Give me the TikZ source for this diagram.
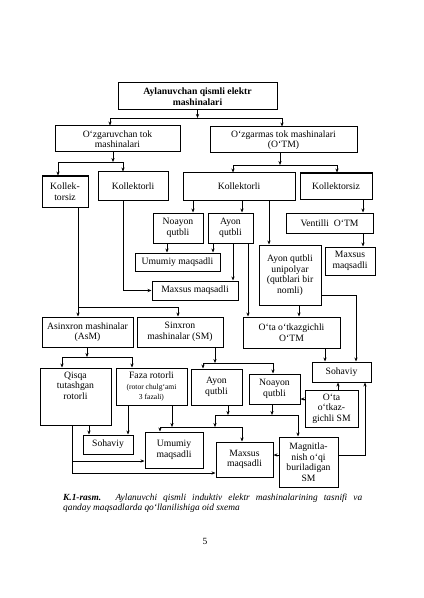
\documentclass[tikz,border=0pt]{standalone}
\usepackage{fontspec}
\setmainfont{Liberation Serif}
\usetikzlibrary{arrows.meta}
\newcommand\fsz{\fontsize{9.7}{10.6}\selectfont}
\newcommand\fsm{\fontsize{7.6}{8.2}\selectfont}
\begin{document}
\begin{tikzpicture}[x=1bp,y=-1bp,
  box/.style={draw, line width=1bp, inner sep=1bp, align=center, font=\fsz},
  ln/.style={line width=0.9bp},
  arr/.style={ln, -{Stealth[length=4bp,width=3.2bp]}},
  toplbl/.style={font=\fsz,align=center,anchor=north,inner sep=1bp,yshift=-3bp}]
\useasboundingbox[fill=white] (0,0) rectangle (423,598);

% boxes
\node[box,font=\bfseries\fsz,minimum width=159bp,minimum height=27bp] (top) at (197.5,96.5) {Aylanuvchan qismli elektr\\mashinalari};
\node[box,minimum width=125bp,minimum height=26bp] (ozg) at (117.5,139) {O‘zgaruvchan tok\\mashinalari};
\node[box,minimum width=147bp,minimum height=26bp] (ozgm) at (283.5,140) {O‘zgarmas tok mashinalari\\(O‘TM)};
\node[box,minimum width=46bp,minimum height=31bp] (kolsizL) at (65,191.5) {Kollek-\\torsiz};
\node[box,minimum width=70bp,minimum height=28bp] (kolliL) at (133,186) {Kollektorli};
\node[box,minimum width=112bp,minimum height=27bp] (kolliR) at (239,186.5) {Kollektorli};
\node[box,minimum width=72bp,minimum height=26bp] (kolsizR) at (336,186) {Kollektorsiz};
\node[box,minimum width=50bp,minimum height=30bp] (noayon1) at (178,228) {Noayon\\qutbli};
\node[box,minimum width=45bp,minimum height=30bp] (ayon1) at (230.5,228) {Ayon\\qutbli};
\node[box,minimum width=87bp,minimum height=20bp] (ventil) at (329.5,223) {Ventilli\ \ O‘TM};
\node[box,minimum width=85bp,minimum height=18bp] (umum1) at (177.5,262) {Umumiy maqsadli};
\node[box,minimum width=86bp,minimum height=19bp] (maxsus1) at (195,290.5) {Maxsus maqsadli};
\node[box,minimum width=62bp,minimum height=60bp] (unipol) at (290,275) {Ayon qutbli\\unipolyar\\(qutblari bir\\nomli)};
\node[box,minimum width=50bp,minimum height=28bp] (maxsusR) at (350,261) {Maxsus\\maqsadli};
\node[box,minimum width=91bp,minimum height=30bp] (asm) at (87.5,332) {Asinxron mashinalar\\(AsM)};
\node[box,minimum width=86bp,minimum height=30bp] (sm) at (180,332) {Sinxron\\mashinalar (SM)};
\node[box,minimum width=97bp,minimum height=31bp] (otaotm) at (291.5,332.5) {O‘ta o‘tkazgichli\\O‘TM};
\node[box,minimum width=59bp,minimum height=20bp] (sohR) at (341.5,372) {Sohaviy};
\node[box,minimum width=71bp,minimum height=57bp,label={[toplbl]north:{Qisqa\\tutashgan\\rotorli}}] (qisqa) at (75.5,396.5) {};
\node[box,minimum width=71bp,minimum height=37bp] (faza) at (151.5,386.5) {Faza rotorli\\{\fsm(rotor chulg‘ami}\\{\fsm 3 fazali)}};
\node[box,minimum width=51bp,minimum height=36bp] (ayon2) at (216.5,387) {Ayon\\qutbli};
\node[box,minimum width=51bp,minimum height=30bp] (noayon2) at (274.5,389) {Noayon\\qutbli};
\node[box,minimum width=53bp,minimum height=37bp] (otasm) at (331.5,408.5) {O‘ta\\o‘tkaz-\\gichli SM};
\node[box,minimum width=50bp,minimum height=19bp] (sohL) at (108,444.5) {Sohaviy};
\node[box,minimum width=58bp,minimum height=36bp] (umum2) at (174,450) {Umumiy\\maqsadli};
\node[box,minimum width=57bp,minimum height=35bp] (maxsus2) at (244.5,459.5) {Maxsus\\maqsadli};
\node[box,minimum width=59bp,minimum height=50bp] (magn) at (308.5,462) {Magnitla-\\nish o‘qi\\buriladigan\\SM};

% junctions
\coordinate (j1) at (197.5,118);
\coordinate (j2) at (113,162);
\coordinate (j3) at (280,165);
\coordinate (j4) at (78,307);
\coordinate (j5) at (87,357);
\coordinate (j6) at (215,363);
\coordinate (j7a) at (215,415);
\coordinate (j7b) at (298,415);
\coordinate (j8a) at (160,427);
\coordinate (j8b) at (242,427);
\coordinate (j9) at (72,473);

% connectors
\draw[arr] (top) -- (j1);
\draw[arr] (j1) -| (110,0 |- ozg.north);
\draw[arr] (j1) -| (282,0 |- ozgm.north);

\draw[arr] (113,0 |- ozg.south) -- (j2);
\draw[arr] (j2) -| (58,0 |- kolsizL.north);
\draw[arr] (j2) -| (123,0 |- kolliL.north);

\draw[arr] (280,0 |- ozgm.south) -- (j3);
\draw[arr] (j3) -| (233,0 |- kolliR.north);
\draw[arr] (j3) -| (337,0 |- kolsizR.north);

\draw[arr] (193,0 |- kolliR.south) -- (193,0 |- noayon1.north);
\draw[arr] (242,0 |- kolliR.south) -- (242,0 |- ayon1.north);
\draw[arr] (269,0 |- kolliR.south) -- (269,0 |- unipol.north);
\draw[arr] (363,0 |- kolsizR.south) -- (363,0 |- ventil.north);
\draw[arr] (363,0 |- ventil.south) -- (363,0 |- maxsusR.north);

\draw[arr] (167,0 |- noayon1.south) -- (167,0 |- umum1.north);
\draw[arr] (213,0 |- ayon1.south) -- (213,0 |- umum1.north);
\draw[arr] (233,0 |- ayon1.south) -- (233,0 |- maxsus1.north);
\draw[arr] (248,0 |- ayon1.south) -- (248,0 |- otaotm.north);
\draw[arr] (123,0 |- kolliL.south) |- (maxsus1.west);

\draw[arr] (78,0 |- kolsizL.south) -- (78,0 |- asm.north);
\draw[arr] (j4) -| (178,0 |- sm.north);

\draw[arr] (299,0 |- unipol.south) -- (299,0 |- otaotm.north);
\draw[arr] (unipol.east |- 0,295) -| (356,0 |- sohR.north);
\draw[arr] (325,0 |- otaotm.south) -- (325,0 |- sohR.north);

\draw[arr] (87,0 |- asm.south) -- (j5);
\draw[arr] (j5) -| (62,0 |- qisqa.north);
\draw[arr] (j5) -| (132,0 |- faza.north);

\draw[arr] (215,0 |- sm.south) -- (j6);
\draw[arr] (j6) -| (203,0 |- ayon2.north);
\draw[arr] (j6) -| (273,0 |- noayon2.north);

\draw[arr] (338,0 |- otasm.north) -- (338,0 |- sohR.south);
\draw[arr] (otasm.west |- 0,399) -- (noayon2.east |- 0,399);
\draw[arr] (magn.east |- 0,455) -| (365,0 |- sohR.south);
\draw[arr] (magn.west |- 0,455) -- (maxsus2.east |- 0,455);

\draw[arr] (228,0 |- ayon2.south) -- (228,415);
\draw[arr] (272,0 |- noayon2.south) -- (272,415);
\draw[ln] (j7a) -- (j7b);
\draw[arr] (j7b) -- (298,0 |- magn.north);
\draw[arr] (j7a) -- (215,427);
\draw[ln] (j8a) -- (j8b);
\draw[arr] (j8a) -- (160,0 |- umum2.north);
\draw[arr] (j8b) -- (242,0 |- maxsus2.north);
\draw[arr] (172,0 |- faza.south) -- (172,427);

\draw[arr] (128,0 |- faza.south) -- (128,0 |- sohL.north);
\draw[arr] (89,0 |- qisqa.south) -- (89,0 |- sohL.north);
\draw[ln] (72,0 |- qisqa.south) -- (j9);
\draw[arr] (72,461) -- (umum2.west |- 0,461);
\draw[arr] (j9) -- (maxsus2.west |- j9);

% caption
\node[anchor=north west,text width=299bp,align=justify,inner sep=0pt,
  font=\itshape\fontsize{9.4}{9.8}\selectfont] (cap) at (63,494)
  {\textbf{K.1-rasm.} Aylanuvchi qismli induktiv elektr mashinalarining tasnifi va\linebreak qanday maqsadlarda qo‘llanilishiga oid sxema};
\node[font=\fontsize{9.5}{10}\selectfont] (pg) at (205,541) {5};
\end{tikzpicture}
\end{document}
